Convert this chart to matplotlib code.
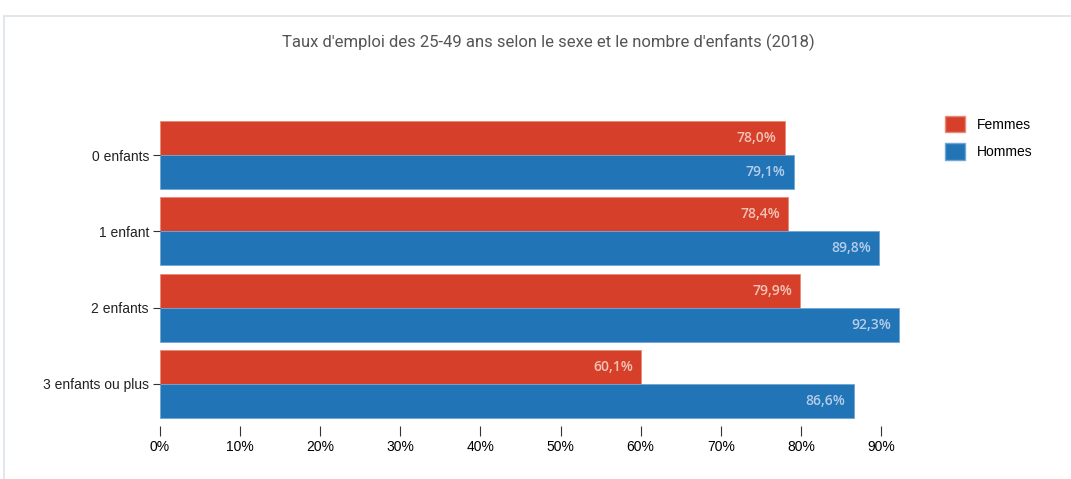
# Taux d'emploi des 25-49 ans, barres horizontales groupées

import numpy as np
import matplotlib.pyplot as plt
from matplotlib.lines import Line2D
from matplotlib.patches import Patch

plt.rcParams['font.family'] = ['Liberation Sans', 'DejaVu Sans']

categories = ['0 enfants', '1 enfant', '2 enfants', '3 enfants ou plus']
femmes = [78.0, 78.4, 79.9, 60.1]
hommes = [79.1, 89.8, 92.3, 86.6]
series_names = ['Femmes', 'Hommes']
xticks = [0, 10, 20, 30, 40, 50, 60, 70, 80, 90]

col_f = '#d6402a'
col_h = '#2174b5'

fig = plt.figure(figsize=(10.71, 4.79), dpi=100)
ax = fig.add_axes([160 / 1071, 57 / 479, 761 / 1071, 305 / 479])

y = np.arange(len(categories))
h = 0.446
bf = ax.barh(y - h / 2, femmes, height=h, color=col_f, edgecolor='#e88a78', linewidth=0.6)
bh = ax.barh(y + h / 2, hommes, height=h, color=col_h, edgecolor='#6fa6d6', linewidth=0.6)

# étiquettes dans les barres
for bars, vals, tc in [(bf, femmes, '#f3c3b6'), (bh, hommes, '#b4cdea')]:
    for b, v in zip(bars, vals):
        ax.text(v - 1.0, b.get_y() + b.get_height() / 2, f'{v:.1f}%'.replace('.', ','),
                ha='right', va='center', color=tc, fontsize=10, family='Open Sans',
                fontweight='semibold')

ax.set_ylim(3.5, -0.5)
ax.set_xlim(0, 95)
ax.set_yticks(y)
ax.set_yticklabels(categories, fontsize=10, color='#222222')
ax.set_xticks(xticks)
ax.set_xticklabels([f'{t}%' for t in xticks], fontsize=10, color='#222222')
for s in ['top', 'right', 'left', 'bottom']:
    ax.spines[s].set_visible(False)
ax.spines['bottom'].set_position(('outward', 3))
ax.tick_params(axis='x', length=7, width=0.8, color='#333333', pad=3)
ax.tick_params(axis='y', length=5, width=0.8, color='#333333', pad=3)

fig.text(548 / 1071, 1 - 42 / 479, "Taux d'emploi des 25-49 ans selon le sexe et le nombre d'enfants (2018)",
         ha='center', va='center', fontsize=12, color='#555555', family='Roboto')

handles = [Patch(facecolor=col_f, edgecolor='#e88a78'), Patch(facecolor=col_h, edgecolor='#6fa6d6')]
fig.legend(handles, series_names, loc='upper left', bbox_to_anchor=(932 / 1071, 1 - 103 / 479),
           frameon=False, fontsize=10, handlelength=1.5, handleheight=1.5, labelspacing=0.78,
           handletextpad=0.8)

# cadre gris clair
fig.add_artist(Line2D([4 / 1071, 1], [1 - 16 / 479, 1 - 16 / 479], color='#dde3ea', lw=1.2))
fig.add_artist(Line2D([4 / 1071, 4 / 1071], [0, 1 - 16 / 479], color='#dde3ea', lw=1.2))

fig.savefig('out.png', dpi=100)
